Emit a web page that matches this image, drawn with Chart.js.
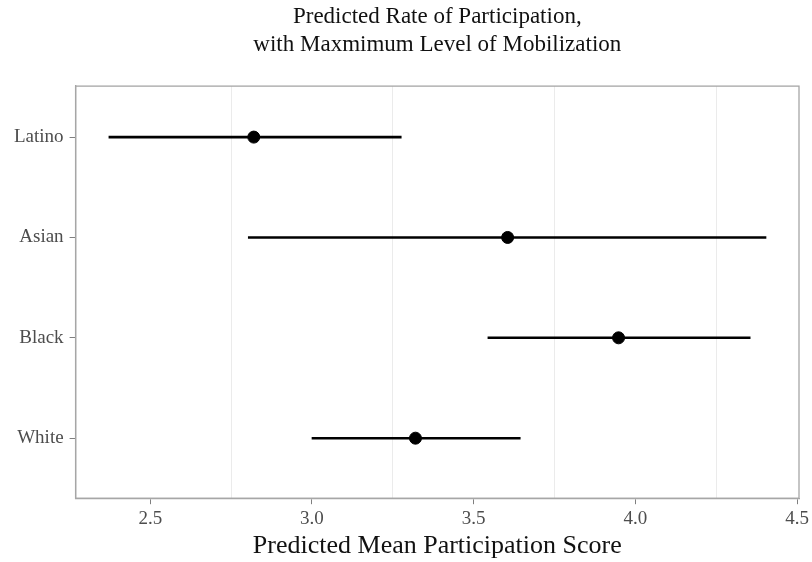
<!DOCTYPE html>
<html>
<head>
<meta charset="utf-8">
<script src="https://cdn.jsdelivr.net/npm/chart.js@4/dist/chart.umd.min.js"></script>
<style>
html,body{margin:0;padding:0;background:#fff;}
#wrap{width:812px;height:562px;}
</style>
</head>
<body>
<div id="wrap"><canvas id="mycanvas"></canvas></div>
<script>
var groups = ['Latino', 'Asian', 'Black', 'White'];
var estimate = [2.82, 3.605, 3.948, 3.32];
var lower = [2.371, 2.802, 3.543, 2.999];
var upper = [3.277, 4.405, 4.356, 3.645];
var xTicks = [2.5, 2.75, 3.0, 3.25, 3.5, 3.75, 4.0, 4.25, 4.5];
var majorTicks = [2.5, 3.0, 3.5, 4.0, 4.5];

var serif = "'Liberation Serif', 'DejaVu Serif', serif";

function isMajor(v) {
  return majorTicks.some(function (m) { return Math.abs(m - v) < 1e-6; });
}

var datasets = [];
for (var i = 0; i < groups.length; i++) {
  datasets.push({
    type: 'line',
    label: groups[i] + ' interval',
    data: [{x: lower[i], y: i + 1}, {x: upper[i], y: i + 1}],
    borderColor: '#000',
    borderWidth: 2.6,
    pointRadius: 0,
    showLine: true,
    fill: false
  });
}
datasets.push({
  type: 'scatter',
  label: 'estimate',
  data: estimate.map(function (v, i) { return {x: v, y: i + 1}; }),
  backgroundColor: '#000',
  borderColor: '#000',
  pointRadius: 6,
  pointHoverRadius: 6
});

var frame = {
  id: 'frame',
  afterDraw: function (chart) {
    var a = chart.chartArea, c = chart.ctx;
    c.save();
    c.strokeStyle = '#a6a6a6';
    c.lineWidth = 1.3;
    c.strokeRect(a.left, a.top, a.right - a.left, a.bottom - a.top);
    c.restore();
  }
};

var ctx = document.querySelector('#mycanvas');
new Chart(ctx, {
  type: 'scatter',
  data: {datasets: datasets},
  plugins: [frame],
  options: {
    responsive: true,
    maintainAspectRatio: false,
    animation: false,
    layout: {padding: {top: 3, right: 13, left: 8, bottom: 3}},
    plugins: {
      legend: {display: false},
      tooltip: {enabled: false},
      title: {
        display: true,
        fullSize: false,
        text: ['Predicted Rate of Participation,', 'with Maxmimum Level of Mobilization'],
        color: '#111',
        font: {family: serif, size: 23, weight: 'normal', lineHeight: 1.22},
        padding: {top: 0, bottom: 27}
      }
    },
    scales: {
      x: {
        type: 'linear',
        min: 2.269,
        max: 4.506,
        afterBuildTicks: function (scale) {
          scale.ticks = xTicks.map(function (v) { return {value: v}; });
        },
        ticks: {
          autoSkip: false,
          maxRotation: 0,
          color: '#4d4d4d',
          font: {family: serif, size: 19},
          padding: 3,
          callback: function (v) { return isMajor(v) ? v.toFixed(1) : ''; }
        },
        grid: {
          color: function (c) { return c.tick && !isMajor(c.tick.value) ? '#ebebeb' : 'rgba(0,0,0,0)'; },
          tickColor: function (c) { return c.tick && isMajor(c.tick.value) ? '#7f7f7f' : 'rgba(0,0,0,0)'; },
          tickLength: 6,
          lineWidth: 1
        },
        border: {display: true, color: '#a6a6a6', width: 1.3},
        title: {
          display: true,
          text: 'Predicted Mean Participation Score',
          color: '#111',
          font: {family: serif, size: 26, lineHeight: 1.0},
          padding: {top: 0, bottom: 0}
        }
      },
      y: {
        type: 'linear',
        reverse: true,
        min: 0.492,
        max: 4.598,
        afterBuildTicks: function (scale) {
          scale.ticks = groups.map(function (g, i) { return {value: i + 1}; });
        },
        ticks: {
          autoSkip: false,
          color: '#4d4d4d',
          font: {family: serif, size: 19},
          padding: 6,
          callback: function (v) { return groups[v - 1]; }
        },
        grid: {
          drawOnChartArea: false,
          tickColor: '#7f7f7f',
          tickLength: 6
        },
        border: {display: true, color: '#a6a6a6', width: 1.3}
      }
    }
  }
});
</script>
</body>
</html>
